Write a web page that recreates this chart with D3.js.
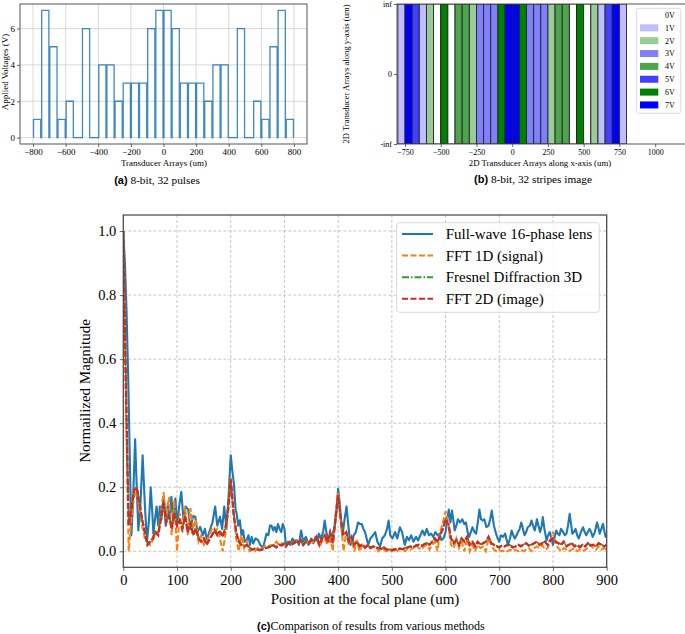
<!DOCTYPE html>
<html><head><meta charset="utf-8">
<script src="https://cdn.jsdelivr.net/npm/d3@7"></script>
<style>
body{margin:0;background:#fff}
svg{display:block}
text{font-family:"Liberation Serif","Times New Roman",serif;fill:#000}
</style>
</head><body>
<svg id="fig" width="685" height="634"></svg>
<script>
// ---------------- DATA ----------------
// Panel (a)/(b): 32 pulses / stripes, 50 um each, from -800 to 800 um
const pulseVoltages = [1,7,5,1,2,0,6,0,4,4,2,3,3,3,6,7,7,6,3,3,3,2,4,4,0,6,0,2,1,5,7,1];
const pulseEdges = d3.range(-800, 801, 50);
const aXTicks = [-800,-600,-400,-200,0,200,400,600,800];
const aYTicks = [0,2,4,6];
const bXTicks = [-750,-500,-250,0,250,500,750,1000];
const bYTickLabels = ["inf","0","-inf"];
const voltLabels = ["0V","1V","2V","3V","4V","5V","6V","7V"];
const voltColors = ["#ffffff","#bfbfff","#99cc99","#8080ff","#4da64d","#4040ff","#008000","#0000ff"];

// Panel (c)
const cXTicks = [0,100,200,300,400,500,600,700,800,900];
const cYTicks = [0,0.2,0.4,0.6,0.8,1.0];
const seriesNames = ["Full-wave 16-phase lens","FFT 1D (signal)","Fresnel Diffraction 3D","FFT 2D (image)"];
const seriesColors = ["#1f77b4","#ff7f0e","#2ca02c","#d62728"];

const bluePos = [0,3,6,9,12,15,18,22,25,28,32,36,40,44,48,51,54,56,59,62,65,68,71,75,79,83,86,89.5,93,97,100,104,108,112,116,121,125,130,134,138,143,148,152,155.5,160,166,171,175,180,184,188,192,196,200,203,206,209,211,214,217,220,223,226,229.6,233,236,239,242,246,251,255,260,263,266.6,270,273,276,279,282,285,288,291,294,297,300,303,307,311,315,319,323,327,331,335,340,345,350,354,358,362,364,368,372,375,378,381,385,390,394,397,400,403,406,408,412,415.6,419,423,426,429,433,437,441,444,447,450,453,456,460,465,469,473,478,482,487,491,494,497,501,506,510,515,519,524,528,532,536,540,545,549,553,557,561,565,569,573,577,581,585,589,592,596,600,603,606,609,612,615,617,620,623,627,631,635,638,641,644,647,650,654,657,660,663,666,669,672,676,680,683,686,690,694,697,700,703,707,711,716,720,723,726,729,732,735,738,741,744,747,750,753,757,760,763,766,768,770,773,776,779,781,784,788,791,794,797,800,803,806,809,812,815,819,822,825,828,831,834,836,839,842,845,848,852,856,859,862,865,868,871,874,878,882,885,887,890,893,896,898,900];
const blueVal = [1.0,0.9,0.75,0.55,0.3,0.05,0.15,0.35,0.2,0.065,0.15,0.30,0.15,0.03,0.1,0.2,0.12,0.055,0.1,0.14,0.08,0.14,0.1,0.17,0.08,0.15,0.1,0.17,0.09,0.165,0.08,0.14,0.186,0.1,0.14,0.13,0.07,0.11,0.108,0.06,0.076,0.05,0.07,0.035,0.06,0.09,0.14,0.08,0.108,0.07,0.14,0.07,0.17,0.30,0.25,0.21,0.13,0.118,0.08,0.097,0.05,0.066,0.03,0.035,0.05,0.02,0.045,0.024,0.04,0.035,0.02,0.01,0.03,0.055,0.05,0.08,0.08,0.065,0.076,0.06,0.085,0.07,0.06,0.085,0.07,0.013,0.03,0.02,0.04,0.025,0.035,0.02,0.065,0.03,0.045,0.02,0.04,0.025,0.045,0.03,0.055,0.04,0.06,0.096,0.06,0.04,0.03,0.055,0.08,0.13,0.195,0.15,0.08,0.05,0.1,0.14,0.08,0.02,0.03,0.05,0.06,0.09,0.085,0.085,0.07,0.06,0.04,0.02,0.04,0.05,0.06,0.03,0.015,0.04,0.05,0.07,0.096,0.05,0.04,0.06,0.04,0.075,0.06,0.02,0.045,0.035,0.05,0.03,0.045,0.034,0.05,0.065,0.05,0.07,0.05,0.055,0.045,0.06,0.05,0.055,0.035,0.04,0.06,0.1,0.13,0.09,0.127,0.09,0.065,0.08,0.1,0.09,0.1,0.085,0.09,0.06,0.045,0.06,0.075,0.06,0.055,0.09,0.13,0.1,0.096,0.1,0.075,0.08,0.1,0.127,0.08,0.055,0.04,0.03,0.05,0.045,0.055,0.02,0.04,0.065,0.05,0.04,0.05,0.06,0.07,0.09,0.07,0.05,0.06,0.075,0.08,0.096,0.08,0.065,0.08,0.1,0.08,0.06,0.08,0.107,0.07,0.034,0.05,0.06,0.04,0.02,0.045,0.065,0.055,0.05,0.07,0.06,0.05,0.055,0.08,0.117,0.08,0.055,0.06,0.07,0.05,0.04,0.06,0.075,0.06,0.05,0.06,0.07,0.06,0.045,0.06,0.09,0.07,0.055,0.07,0.086,0.06,0.045,0.05];

const gridPos = d3.range(0, 901, 5);
const fft1dVal = [1.0,0.45,0.0,0.1,0.17,0.19,0.13,0.08,0.04,0.03, 0.02,0.035,0.05,0.06,0.12,0.185,0.1,0.17,0.05,0.16,
0.0,0.12,0.06,0.14,0.05,0.135,0.07,0.1,0.03,0.05, 0.02,0.03,0.05,0.07,0.06,0.07,0.04,0.0,0.05,0.12,
0.23,0.14,0.04,0.0,0.05,0.01,0.03,0.0,0.005,0.0, 0.01,0.005,0.01,0.02,0.015,0.02,0.02,0.03,0.02,0.025,
0.02,0.02,0.03,0.02,0.035,0.03,0.03,0.02,0.025,0.03, 0.02,0.035,0.04,0.015,0.03,0.04,0.02,0.05,0.0,0.11,
0.185,0.1,0.0,0.06,0.02,0.04,0.0,0.035,0.0,0.02, 0.01,0.02,0.01,0.015,0.01,0.0,0.01,0.005,0.0,0.005,
0.0,0.005,0.0,0.01,0.005,0.0,0.01,0.005,0.01,0.02, 0.01,0.005,0.015,0.02,0.005,0.02,0.03,0.0,0.06,0.09,
0.125,0.09,0.02,0.01,0.04,0.01,0.03,0.0,0.04,0.0, 0.02,0.0,0.02,0.01,0.015,0.0,0.04,0.02,0.005,0.0,
0.005,0.0,0.003,0.0,0.005,0.0,0.005,0.0,0.005,0.0, 0.005,0.01,0.0,0.01,0.015,0.01,0.02,0.005,0.01,0.03,
0.06,0.02,0.01,0.0,0.01,0.005,0.0,0.005,0.01,0.0, 0.005,0.0,0.005,0.01,0.02,0.01,0.005,0.015,0.005,0.01,
0.005];
const fresnelVal = [1.0,0.52,0.1,0.14,0.19,0.2,0.16,0.1,0.06,0.025, 0.03,0.045,0.06,0.055,0.11,0.16,0.095,0.115,0.075,0.125,
0.085,0.1,0.075,0.11,0.065,0.095,0.055,0.075,0.045,0.035, 0.04,0.025,0.04,0.05,0.07,0.055,0.065,0.05,0.075,0.135,
0.22,0.125,0.065,0.035,0.022,0.018,0.02,0.012,0.006,0.008, 0.006,0.005,0.007,0.011,0.013,0.016,0.019,0.014,0.021,0.02,
0.026,0.022,0.029,0.024,0.031,0.027,0.036,0.022,0.031,0.027, 0.036,0.032,0.044,0.024,0.041,0.05,0.033,0.058,0.03,0.105,
0.17,0.105,0.055,0.058,0.033,0.044,0.024,0.031,0.017,0.022, 0.014,0.019,0.012,0.016,0.013,0.011,0.009,0.012,0.007,0.006,
0.005,0.007,0.006,0.009,0.007,0.011,0.013,0.016,0.013,0.019, 0.021,0.018,0.023,0.026,0.022,0.031,0.04,0.03,0.052,0.072,
0.1,0.088,0.045,0.028,0.036,0.022,0.04,0.032,0.044,0.023, 0.031,0.018,0.031,0.022,0.026,0.031,0.044,0.027,0.021,0.017,
0.013,0.019,0.016,0.021,0.019,0.014,0.016,0.021,0.017,0.021, 0.025,0.019,0.021,0.026,0.03,0.022,0.026,0.031,0.022,0.035,
0.04,0.031,0.026,0.022,0.03,0.017,0.021,0.025,0.017,0.021, 0.014,0.021,0.016,0.025,0.019,0.021,0.016,0.025,0.021,0.017,
0.021];
const fft2dVal = [1.0,0.5,0.08,0.13,0.19,0.2,0.15,0.1,0.06,0.02, 0.03,0.04,0.06,0.05,0.1,0.155,0.09,0.11,0.07,0.12,
0.08,0.095,0.07,0.11,0.06,0.09,0.05,0.07,0.04,0.03, 0.04,0.02,0.035,0.05,0.065,0.05,0.06,0.045,0.07,0.13,
0.225,0.12,0.06,0.03,0.02,0.015,0.02,0.01,0.005,0.008, 0.005,0.004,0.006,0.01,0.012,0.015,0.018,0.012,0.02,0.018,
0.025,0.02,0.028,0.022,0.03,0.025,0.035,0.02,0.03,0.025, 0.035,0.03,0.045,0.02,0.04,0.05,0.03,0.06,0.025,0.1,
0.175,0.1,0.05,0.06,0.03,0.045,0.02,0.03,0.015,0.02, 0.012,0.018,0.01,0.015,0.012,0.01,0.008,0.012,0.006,0.005,
0.004,0.006,0.005,0.008,0.006,0.01,0.012,0.015,0.012,0.018, 0.02,0.016,0.022,0.025,0.02,0.03,0.04,0.028,0.05,0.07,
0.1,0.085,0.04,0.025,0.035,0.02,0.04,0.03,0.045,0.02, 0.03,0.015,0.03,0.02,0.025,0.03,0.045,0.025,0.02,0.015,
0.012,0.018,0.015,0.02,0.018,0.012,0.015,0.02,0.015,0.02, 0.025,0.018,0.02,0.025,0.03,0.02,0.025,0.03,0.02,0.035,
0.04,0.03,0.025,0.02,0.03,0.015,0.02,0.025,0.015,0.02, 0.012,0.02,0.015,0.025,0.018,0.02,0.015,0.025,0.02,0.015,
0.02];

// ---------------- DRAW ----------------
const svg = d3.select("#fig");
const SPINE = "#444";
const SERIF = '"Liberation Serif","Times New Roman",serif';
const SANS = '"Liberation Sans",Arial,sans-serif';
const minus = d => (d < 0 ? "\u2212" + Math.abs(d) : String(d));

function styleAxis(g, fs) {
  g.select(".domain").remove();
  g.attr("font-family", null).attr("font-size", null);
  g.selectAll(".tick line").attr("stroke", SPINE).attr("stroke-width", 0.8);
  g.selectAll(".tick text").style("font-family", SERIF).style("font-size", fs + "px").attr("fill", "#000");
}
function txt(sel, size) { return sel.style("font-family", SERIF).style("font-size", size + "px"); }

// ===== Panel (a) =====
{
  const x = d3.scaleLinear().domain([-880, 880]).range([20, 307]);
  const y = d3.scaleLinear().domain([-0.35, 7.35]).range([144, 4]);
  const g = svg.append("g");
  g.selectAll(".gx").data(aXTicks).join("line")
    .attr("x1", d => x(d)).attr("x2", d => x(d)).attr("y1", 4).attr("y2", 144)
    .attr("stroke", "#cfcfcf").attr("stroke-width", 0.8);
  g.selectAll(".gy").data(aYTicks).join("line")
    .attr("y1", d => y(d)).attr("y2", d => y(d)).attr("x1", 20).attr("x2", 307)
    .attr("stroke", "#cfcfcf").attr("stroke-width", 0.8);
  const pts = [];
  pulseVoltages.forEach((v, i) => {
    const x0 = pulseEdges[i] + 3, x1 = pulseEdges[i + 1] - 3;
    pts.push([x0, 0], [x0, v], [x1, v], [x1, 0]);
  });
  g.append("path").datum(pts)
    .attr("d", d3.line().x(d => x(d[0])).y(d => y(d[1])))
    .attr("fill", "none").attr("stroke", "#1f77b4").attr("stroke-width", 1.3).attr("stroke-opacity", 0.85);
  g.append("rect").attr("x", 20).attr("y", 4).attr("width", 287).attr("height", 140)
    .attr("fill", "none").attr("stroke", SPINE).attr("stroke-width", 0.9);
  g.append("g").attr("transform", "translate(0,144)")
    .call(d3.axisBottom(x).tickValues(aXTicks).tickSize(3).tickPadding(2).tickFormat(minus))
    .call(a => styleAxis(a, 9));
  g.append("g").attr("transform", "translate(20,0)")
    .call(d3.axisLeft(y).tickValues(aYTicks).tickSize(3).tickPadding(2))
    .call(a => styleAxis(a, 9));
  txt(g.append("text").attr("x", 164).attr("y", 165.5).attr("text-anchor", "middle"), 9)
    .text("Transducer Arrays (um)");
  txt(g.append("text").attr("transform", "translate(7.5,72) rotate(-90)").attr("text-anchor", "middle"), 9)
    .text("Applied Voltages (V)");
  const cap = txt(g.append("text").attr("x", 157).attr("y", 184).attr("text-anchor", "middle"), 11.3);
  cap.append("tspan").style("font-family", SANS).style("font-weight", "bold").style("font-size", "11px").text("(a)");
  cap.append("tspan").text(" 8-bit, 32 pulses");
}

// ===== Panel (b) =====
{
  const x = d3.scaleLinear().domain([-806, 1230]).range([397, 688]);
  const top = 4, bot = 144;
  const g = svg.append("g");
  const clip = svg.append("clipPath").attr("id", "clipb");
  clip.append("rect").attr("x", 397).attr("y", top).attr("width", 300).attr("height", bot - top);
  g.append("g").attr("clip-path", "url(#clipb)")
    .selectAll("rect").data(pulseVoltages).join("rect")
    .attr("x", (v, i) => x(pulseEdges[i])).attr("width", (v, i) => x(pulseEdges[i + 1]) - x(pulseEdges[i]))
    .attr("y", top).attr("height", bot - top)
    .attr("fill", v => voltColors[v]).attr("stroke", "#222").attr("stroke-width", 0.9);
  g.append("rect").attr("x", 397).attr("y", top).attr("width", 300).attr("height", bot - top)
    .attr("fill", "none").attr("stroke", SPINE).attr("stroke-width", 0.9);
  g.append("g").attr("transform", `translate(0,${bot})`)
    .call(d3.axisBottom(x).tickValues(bXTicks).tickSize(3).tickPadding(2).tickFormat(minus))
    .call(a => styleAxis(a, 8));
  const ys = d3.scalePoint().domain(bYTickLabels).range([top, bot]);
  g.append("g").attr("transform", "translate(397,0)")
    .call(d3.axisLeft(ys).tickSize(3).tickPadding(2))
    .call(a => styleAxis(a, 8));
  txt(g.append("text").attr("x", 540).attr("y", 165.5).attr("text-anchor", "middle"), 8.8)
    .text("2D Transducer Arrays along x-axis (um)");
  txt(g.append("text").attr("transform", "translate(349,74) rotate(-90)").attr("text-anchor", "middle"), 8.6)
    .text("2D Transducer Arrays along y-axis (um)");
  g.append("rect").attr("x", 636.7).attr("y", 8.3).attr("width", 44).attr("height", 105).attr("rx", 2)
    .attr("fill", "#fff").attr("fill-opacity", 0.85).attr("stroke", "#d0d0d0").attr("stroke-width", 0.8);
  const le = g.selectAll(".lb").data(voltLabels).join("g")
    .attr("transform", (d, i) => `translate(0,${15 + i * 12.85})`);
  le.append("rect").attr("x", 640).attr("y", -3.5).attr("width", 18.3).attr("height", 7)
    .attr("fill", (d, i) => voltColors[i]);
  txt(le.append("text").attr("x", 665).attr("y", 0).attr("dy", "0.35em"), 8).text(d => d);
  const cap = txt(g.append("text").attr("x", 533).attr("y", 183).attr("text-anchor", "middle"), 11.3);
  cap.append("tspan").style("font-family", SANS).style("font-weight", "bold").style("font-size", "11px").text("(b)");
  cap.append("tspan").text(" 8-bit, 32 stripes image");
}

// ===== Panel (c) =====
{
  const L = 123.3, R = 606.7, T = 215, B = 567.3;
  const x = d3.scaleLinear().domain([0, 900]).range([L, R]);
  const y = d3.scaleLinear().domain([-0.05, 1.05]).range([B, T]);
  const g = svg.append("g");
  g.selectAll(".gx").data(cXTicks).join("line")
    .attr("x1", d => x(d)).attr("x2", d => x(d)).attr("y1", T).attr("y2", B)
    .attr("stroke", "#b8b8b8").attr("stroke-width", 0.8).attr("stroke-dasharray", "3,2");
  g.selectAll(".gy").data(cYTicks).join("line")
    .attr("y1", d => y(d)).attr("y2", d => y(d)).attr("x1", L).attr("x2", R)
    .attr("stroke", "#b8b8b8").attr("stroke-width", 0.8).attr("stroke-dasharray", "3,2");
  svg.append("clipPath").attr("id", "clipc").append("rect").attr("x", L).attr("y", T).attr("width", R - L).attr("height", B - T);
  const line = d3.line().x(d => x(d[0])).y(d => y(d[1]));
  const lg = g.append("g").attr("clip-path", "url(#clipc)");
  const blue = bluePos.map((p, i) => [p, blueVal[i]]);
  const mk = vals => gridPos.slice(0, vals.length).map((p, i) => [p, vals[i]]);
  lg.append("path").datum(blue).attr("d", line).attr("fill", "none")
    .attr("stroke", seriesColors[0]).attr("stroke-width", 2.1).attr("stroke-linejoin", "round");
  lg.append("path").datum(mk(fft1dVal)).attr("d", line).attr("fill", "none")
    .attr("stroke", seriesColors[1]).attr("stroke-width", 2).attr("stroke-dasharray", "6,2.5");
  lg.append("path").datum(mk(fresnelVal)).attr("d", line).attr("fill", "none")
    .attr("stroke", seriesColors[2]).attr("stroke-width", 1.8).attr("stroke-dasharray", "7,2,1.5,2");
  lg.append("path").datum(mk(fft2dVal)).attr("d", line).attr("fill", "none")
    .attr("stroke", seriesColors[3]).attr("stroke-width", 2.3).attr("stroke-dasharray", "6,2");
  g.append("rect").attr("x", L).attr("y", T).attr("width", R - L).attr("height", B - T)
    .attr("fill", "none").attr("stroke", SPINE).attr("stroke-width", 1.2);
  g.append("g").attr("transform", `translate(0,${B})`)
    .call(d3.axisBottom(x).tickValues(cXTicks).tickSize(3.5).tickPadding(3.5))
    .call(a => styleAxis(a, 14.5));
  g.append("g").attr("transform", `translate(${L},0)`)
    .call(d3.axisLeft(y).tickValues(cYTicks).tickSize(3.5).tickPadding(3.5).tickFormat(d3.format(".1f")))
    .call(a => styleAxis(a, 14.5));
  txt(g.append("text").attr("x", 365).attr("y", 603.5).attr("text-anchor", "middle"), 15)
    .text("Position at the focal plane (um)");
  txt(g.append("text").attr("transform", "translate(90,391) rotate(-90)").attr("text-anchor", "middle"), 15)
    .text("Normailized Magnitude");
  g.append("rect").attr("x", 396.7).attr("y", 222.7).attr("width", 202.6).attr("height", 89.6).attr("rx", 3)
    .attr("fill", "#fff").attr("fill-opacity", 0.85).attr("stroke", "#d0d0d0").attr("stroke-width", 0.8);
  const dashes = [null, "6,2.5", "7,2,1.5,2", "6,2.5"];
  const le = g.selectAll(".lc").data(seriesNames).join("g")
    .attr("transform", (d, i) => `translate(0,${234 + i * 21.6})`);
  le.append("line").attr("x1", 402).attr("x2", 433).attr("y1", 0).attr("y2", 0)
    .attr("stroke", (d, i) => seriesColors[i]).attr("stroke-width", 2)
    .attr("stroke-dasharray", (d, i) => dashes[i]);
  txt(le.append("text").attr("x", 445.7).attr("y", 0).attr("dy", "0.35em"), 15).text(d => d);
  const cap = txt(g.append("text").attr("x", 257).attr("y", 630), 12);
  cap.append("tspan").style("font-family", SANS).style("font-weight", "bold").style("font-size", "11px").text("(c)");
  cap.append("tspan").text("Comparison of results from various methods");
}
</script>
</body></html>
